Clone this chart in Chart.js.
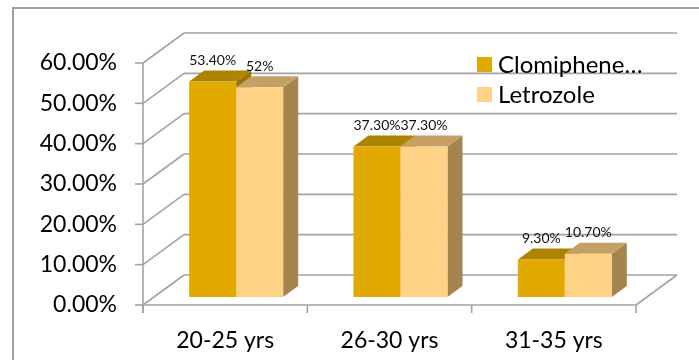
<!DOCTYPE html>
<html>
<head>
<meta charset="utf-8">
<script src="https://cdn.jsdelivr.net/npm/chart.js@4.4.0/dist/chart.umd.min.js"></script>
<style>
  html, body { margin: 0; padding: 0; background: #fff; }
</style>
</head>
<body>
<canvas id="myChart" width="699" height="360"></canvas>
<script>
var ageGroups = ['20-25 yrs', '26-30 yrs', '31-35 yrs'];
var seriesNames = ['Clomiphene…', 'Letrozole'];
var clomipheneValues = [53.4, 37.3, 9.3];
var letrozoleValues = [52, 37.3, 10.7];
var clomipheneLabels = ['53.40%', '37.30%', '9.30%'];
var letrozoleLabels = ['52%', '37.30%', '10.70%'];
var yTickLabels = ['0.00%', '10.00%', '20.00%', '30.00%', '40.00%', '50.00%', '60.00%'];

var FONT = 'Lato, "Open Sans", sans-serif';
var GRID = '#a3a3a3';

// face colours for each series: front, top, side
var faces = [
  { front: '#e2aa00', top: '#ad8300', side: '#9a7400' },
  { front: '#ffd285', top: '#c5a065', side: '#a48550' }
];

var wall = { dx: 41, dy: -30 };      // how far the back wall sits behind the front plane
var barFront = { dx: 11, dy: -8 };   // bars stand a little way into the floor
var barDepth = { dx: 15, dy: -11 };  // thickness of each bar

function line(ctx, x1, y1, x2, y2) {
  ctx.beginPath();
  ctx.moveTo(x1, y1);
  ctx.lineTo(x2, y2);
  ctx.stroke();
}

function poly(ctx, pts, color) {
  ctx.beginPath();
  ctx.moveTo(pts[0][0], pts[0][1]);
  for (var i = 1; i < pts.length; i++) ctx.lineTo(pts[i][0], pts[i][1]);
  ctx.closePath();
  ctx.fillStyle = color;
  ctx.fill();
}

var bar3d = {
  id: 'bar3d',
  beforeDatasetsDraw: function(chart) {
    var ctx = chart.ctx, a = chart.chartArea;
    var ys = chart.scales.y, xs = chart.scales.x;
    ctx.save();

    // outer frame
    ctx.strokeStyle = '#a0a0a0';
    ctx.lineWidth = 2;
    ctx.beginPath();
    ctx.moveTo(13, 360);
    ctx.lineTo(13, 8);
    ctx.lineTo(699, 8);
    ctx.stroke();

    ctx.strokeStyle = GRID;
    ctx.lineWidth = 1.6;
    ys.ticks.forEach(function(t) {
      var y = ys.getPixelForValue(t.value);
      // side wall diagonal and back wall line
      line(ctx, a.left, y, a.left + wall.dx, y + wall.dy);
      line(ctx, a.left + wall.dx, y + wall.dy, a.right + wall.dx, y + wall.dy);
      // tick mark
      line(ctx, a.left - 8, y, a.left, y);
    });

    // floor
    line(ctx, a.left, a.bottom, a.right, a.bottom);
    line(ctx, a.right, a.bottom, a.right + wall.dx, a.bottom + wall.dy);
    // vertical axis
    line(ctx, a.left, a.top, a.left, a.bottom + 8);
    // category separators
    var n = xs.ticks.length, w = (a.right - a.left) / n;
    for (var i = 0; i <= n; i++) {
      line(ctx, a.left + i * w, a.bottom, a.left + i * w, a.bottom + 8);
    }
    ctx.restore();
  },
  afterDatasetsDraw: function(chart) {
    var ctx = chart.ctx;
    var labels = [clomipheneLabels, letrozoleLabels];
    ctx.save();
    var metas = chart.data.datasets.map(function(d, i) { return chart.getDatasetMeta(i); });
    // left bar first so the right one hides its side
    for (var j = 0; j < chart.data.labels.length; j++) {
      metas.forEach(function(meta, s) {
        var el = meta.data[j];
        var x0 = el.x - el.width / 2 + barFront.dx, x1 = el.x + el.width / 2 + barFront.dx;
        var yt = el.y + barFront.dy, yb = el.base + barFront.dy;
        var c = faces[s];
        poly(ctx, [[x1, yt], [x1 + barDepth.dx, yt + barDepth.dy], [x1 + barDepth.dx, yb + barDepth.dy], [x1, yb]], c.side);
        poly(ctx, [[x0, yt], [x0 + barDepth.dx, yt + barDepth.dy], [x1 + barDepth.dx, yt + barDepth.dy], [x1, yt]], c.top);
        poly(ctx, [[x0, yt], [x1, yt], [x1, yb], [x0, yb]], c.front);
      });
    }
    // value labels
    ctx.fillStyle = '#111';
    ctx.font = '14px ' + FONT;
    ctx.textAlign = 'center';
    ctx.textBaseline = 'middle';
    metas.forEach(function(meta, s) {
      meta.data.forEach(function(el, j) {
        ctx.fillText(labels[s][j], el.x + barFront.dx, el.y + barFront.dy + barDepth.dy - 10);
      });
    });
    // legend
    ctx.font = '24px ' + FONT;
    ctx.textAlign = 'left';
    chart.data.datasets.forEach(function(d, s) {
      var y = 57 + s * 30;
      ctx.fillStyle = faces[s].front;
      ctx.fillRect(477, y, 15, 15);
      ctx.fillStyle = '#000';
      ctx.fillText(d.label, 498, y + 8);
    });
    ctx.restore();
  }
};

new Chart(document.getElementById('myChart'), {
  type: 'bar',
  data: {
    labels: ageGroups,
    datasets: [
      { label: seriesNames[0], data: clomipheneValues, backgroundColor: 'rgba(0,0,0,0)' },
      { label: seriesNames[1], data: letrozoleValues, backgroundColor: 'rgba(0,0,0,0)' }
    ]
  },
  options: {
    responsive: false,
    animation: false,
    categoryPercentage: 0.572,
    barPercentage: 1,
    layout: { padding: { top: 63, right: 63, left: 0, bottom: 0 } },
    plugins: { legend: { display: false }, tooltip: { enabled: false } },
    scales: {
      x: {
        grid: { display: false, drawTicks: false },
        border: { display: false },
        ticks: { color: '#000', font: { family: FONT, size: 23 }, padding: 22 },
        afterFit: function(s) { s.height = 55; }
      },
      y: {
        min: 0,
        max: 60,
        grid: { display: false, drawTicks: false },
        border: { display: false },
        ticks: {
          stepSize: 10,
          color: '#000',
          font: { family: FONT, size: 23 },
          padding: 26,
          callback: function(v) { return yTickLabels[v / 10]; }
        },
        afterFit: function(s) { s.width = 143; }
      }
    }
  },
  plugins: [bar3d]
});
</script>
</body>
</html>
